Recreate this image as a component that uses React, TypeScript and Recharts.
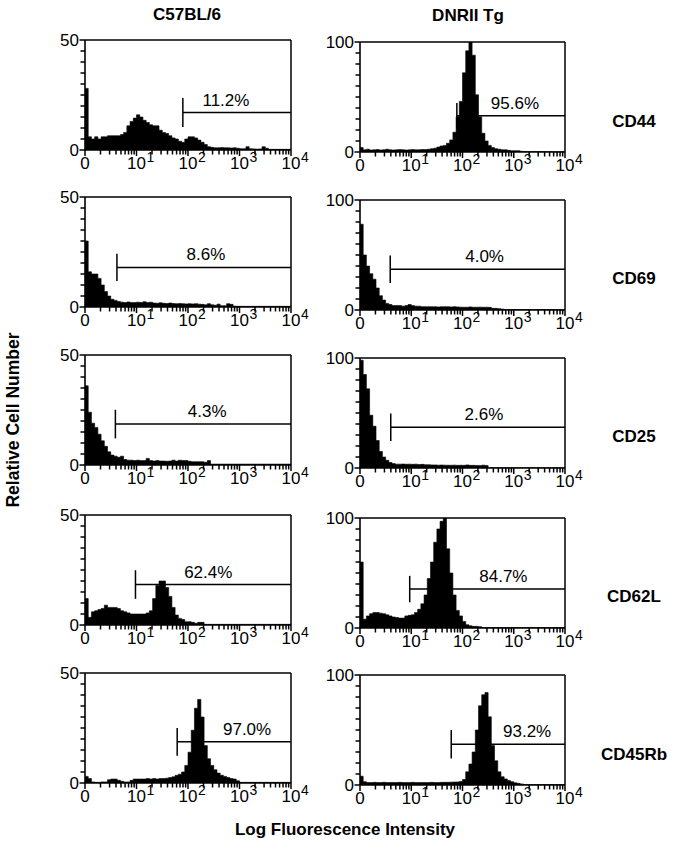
import React from 'react';
import { ComposedChart, Area, XAxis, YAxis, ReferenceLine } from 'recharts';

const FONT = '"Liberation Sans", Arial, Helvetica, sans-serif';

const strains = ['C57BL/6', 'DNRII Tg'];
const markers = ['CD44', 'CD69', 'CD25', 'CD62L', 'CD45Rb'];
const yMaxByStrain = [50, 100];
const decadeLabels = ['0', '10', '10', '10', '10'];
const decadeExponents = ['', '1', '2', '3', '4'];
const xTitle = 'Log Fluorescence Intensity';
const yTitle = 'Relative Cell Number';
const BINS_PER_DECADE = 16;
const DECADES = 4;

// histogram counts per channel (16 channels per decade, 64 channels)
const b6CD44 = [
  28, 6, 5, 6, 5, 6, 6, 6.5, 6.5, 6.5,
  6.5, 7, 8, 11, 13, 14.5, 16, 15, 13.5, 12.5,
  11.5, 11, 11, 9, 8, 7.5, 6.5, 5.5, 5, 4,
  3.5, 5, 6, 6, 5.5, 4.5, 3.5, 2.5, 1.5, 1.2,
  1, 1, 1.1, 1, 1, 0.9, 1, 0.8, 0.6, 0.6,
  1.5, 0.6, 0.5, 0.4, 0.5, 1.5, 0.8, 0.3, 0.3, 0.3,
  0.3, 0.3, 0.3, 0.3,
];
const tgCD44 = [
  4, 2, 2.5, 1.8, 2, 2.2, 1.8, 2, 2.5, 2,
  1.8, 2, 2.2, 2, 1.8, 2, 2.2, 2, 2, 2.3,
  2.2, 2.5, 3, 3.5, 4.5, 5.5, 6, 8, 11, 18,
  32, 46, 72, 92, 100, 88, 52, 32, 17, 10,
  6, 4, 3, 2.5, 2, 2, 1.5, 1.2, 1.2, 1.2,
  0.6, 0.5, 0.4, 0.5, 0.5, 0.4, 0.5, 0.4, 0.3, 0.4,
  0.3, 0.3, 0.3, 0.3,
];
const b6CD69 = [
  30, 16, 15, 15, 13, 10, 7, 5, 3.5, 3,
  2.5, 2.2, 2, 2.3, 2, 2, 2.2, 2, 2.4, 2,
  2.2, 1.8, 1.7, 1.9, 1.7, 1.6, 1.8, 1.6, 1.5, 1.6,
  1.5, 1.4, 1.5, 1.4, 1.5, 1.3, 1.2, 1, 1.5, 1,
  0.8, 1.3, 0.6, 0.6, 1.5, 1.2, 0.4, 0.3, 0.3, 0.3,
  0.3, 0.3, 0.3, 0.3, 0.3, 0.3, 0.3, 0.3, 0.3, 0.3,
  0.3, 0.3, 0.3, 0.3,
];
const tgCD69 = [
  78, 50, 40, 33, 28, 20, 13, 9, 6, 5,
  4, 4, 4, 3.5, 4, 5, 4, 3.5, 3.5, 3,
  3, 3, 3, 3, 2.8, 3, 3, 3, 2.8, 3,
  2.8, 2.6, 2.5, 2.5, 2.8, 2.5, 2.5, 2.6, 2.5, 2.5,
  2.4, 1.5, 1.5, 1.2, 0.8, 0.5, 0.5, 0.4, 0.4, 0.4,
  0.4, 0.4, 0.4, 0.4, 0.4, 0.4, 0.4, 0.4, 0.4, 0.4,
  0.4, 0.4, 0.4, 0.4,
];
const b6CD25 = [
  36, 24, 19, 17, 14, 11, 8.5, 6, 4.5, 4,
  3.5, 4, 2.5, 2.2, 2.2, 2, 2.2, 2, 2, 3,
  2, 1.8, 2, 1.8, 1.8, 1.7, 1.8, 2.2, 1.8, 2.2,
  2, 2, 1.7, 1.5, 1.5, 1.5, 1.5, 1.2, 2, 0.4,
  0.4, 0.4, 0.4, 0.4, 0.4, 0.4, 0.4, 0.4, 0.4, 0.4,
  0.4, 0.4, 0.4, 0.4, 0.4, 0.4, 0.4, 0.4, 0.4, 0.4,
  0.4, 0.4, 0.4, 0.4,
];
const tgCD25 = [
  98, 85, 72, 48, 38, 25, 15, 10, 7, 5,
  4, 3.5, 3.5, 3.6, 3.4, 3.5, 3.3, 3.5, 3.2, 3.3,
  3, 3, 2.8, 2.8, 2.6, 2.7, 2.6, 2.5, 2.5, 2.6,
  2.4, 2.5, 2.4, 2.8, 2.4, 2.4, 2.3, 2.2, 2.6, 2.3,
  0.3, 0.3, 0.3, 0.3, 0.3, 0.3, 0.3, 0.3, 0.3, 0.3,
  0.3, 0.3, 0.3, 0.3, 0.3, 0.3, 0.3, 0.3, 0.3, 0.3,
  0.3, 0.3, 0.3, 0.3,
];
const b6CD62L = [
  12, 3.5, 6, 6.5, 7, 7.5, 9, 8, 8, 8,
  7.5, 6.5, 6, 5.5, 5, 5, 5, 5, 5, 5.5,
  6.5, 12, 18, 20, 20, 17, 13, 8, 4.5, 3,
  2.5, 1.5, 1.5, 1.2, 0.8, 1.2, 1.2, 0.3, 0.3, 0.3,
  0.3, 0.3, 0.3, 0.3, 0.3, 0.3, 0.3, 0.3, 0.3, 0.3,
  0.3, 0.3, 0.3, 0.3, 0.3, 0.3, 0.3, 0.3, 0.3, 0.3,
  0.3, 0.3, 0.3, 0.3,
];
const tgCD62L = [
  60, 8, 11, 13, 14, 14, 13.5, 13, 12, 11,
  10, 9.5, 9, 9, 11, 11.5, 12, 14, 17, 22,
  30, 45, 60, 78, 90, 97, 100, 72, 50, 30,
  16, 11, 6, 3, 2, 1.5, 1.5, 1.2, 0.4, 0.4,
  0.4, 0.4, 0.4, 0.4, 0.4, 0.4, 0.4, 0.4, 0.4, 0.4,
  0.4, 0.4, 0.4, 0.4, 0.4, 0.4, 0.4, 0.4, 0.4, 0.4,
  0.4, 0.4, 0.4, 0.4,
];
const b6CD45Rb = [
  3, 2, 0.5, 0.3, 0.3, 0.5, 0.5, 1.5, 1.8, 1.8,
  1.2, 0.8, 0.5, 0.5, 1.2, 1.8, 1.8, 1.8, 1.8, 2,
  1.8, 2, 1.8, 2, 2, 2.2, 2.5, 2.8, 3.5, 4,
  5, 8, 14, 24, 34, 38, 30, 17, 11, 8,
  6, 4.5, 3.5, 3, 2.5, 2, 1.8, 1, 0.3, 0.3,
  0.3, 0.3, 0.3, 0.3, 0.3, 0.3, 0.3, 0.3, 0.3, 0.3,
  0.3, 0.3, 0.3, 0.3,
];
const tgCD45Rb = [
  8, 3, 2.3, 2.2, 2.4, 2.3, 2.2, 2.5, 2.3, 2.2,
  2.3, 2.2, 2.4, 2.2, 2.3, 2.2, 2.4, 2.3, 2.2, 2.3,
  2.2, 2.3, 2.4, 2.2, 2.3, 2.4, 2.5, 2.4, 2.6, 2.7,
  2.8, 3.2, 5, 12, 19, 30, 50, 72, 82, 84,
  62, 36, 22, 12, 7.5, 5.5, 4, 3, 2, 1.5,
  1, 0.4, 0.4, 0.4, 0.4, 0.4, 0.4, 0.4, 0.4, 0.4,
  0.4, 0.4, 0.4, 0.4,
];

// gates: start (log decades), level (cell number), half-height of the end mark, percent
const gateStartB6 = [1.9, 0.62, 0.59, 0.98, 1.79];
const gateStartTg = [1.89, 0.59, 0.6, 0.97, 1.78];
const gateLevelB6 = [17, 18, 18.6, 18.4, 18.7];
const gateLevelTg = [33, 37, 37, 35.4, 37];
const gateHalfB6 = [6.6, 6.2, 6.5, 6.5, 6.3];
const gateHalfTg = [11.5, 12.5, 12.5, 12, 13];
const gatePctB6 = ['11.2%', '8.6%', '4.3%', '62.4%', '97.0%'];
const gatePctTg = ['95.6%', '4.0%', '2.6%', '84.7%', '93.2%'];

const histB6 = [b6CD44, b6CD69, b6CD25, b6CD62L, b6CD45Rb];
const histTg = [tgCD44, tgCD69, tgCD25, tgCD62L, tgCD45Rb];

// layout (px)
const LABEL_DX_B6 = [-11, 2, 4, -5, 13];
const LABEL_DX_TG = [4, 7, 6, 16, 19];
const PLOT_LEFT = [85, 360];
const PLOT_W = [206, 205];
const ROW_TOP_B6 = [40, 197, 355, 515, 673];
const ROW_TOP_TG = [42, 200, 358, 518, 675];
const PH = 110;
const YW = 50;
const MT = 12;
const MR = 24;
const XH = 36;
const TICK = 4;
const TICK_GAP = 2;

const xTicks: number[] = [];
for (let d = 0; d < DECADES; d++) {
  for (let k = 1; k <= 9; k++) xTicks.push(d + Math.log10(k));
}
xTicks.push(DECADES);

const XTick = (props: any) => {
  const { x, y, payload } = props;
  const v = payload.value;
  const idx = Math.round(v);
  const major = Math.abs(v - idx) < 1e-6;
  const axisY = y - TICK - TICK_GAP;
  const exp = major ? decadeExponents[idx] : '';
  return (
    <g>
      <line x1={x} x2={x} y1={axisY} y2={axisY + (major ? 6 : 4.5)} stroke="#000" strokeWidth={1.5} />
      {major ? (
        <text x={x} y={y} dy={13} textAnchor="middle" fontSize={17} fill="#000" fontFamily={FONT}>
          {decadeLabels[idx]}
        </text>
      ) : null}
      {exp ? (
        <text x={x + 10} y={y} dy={6} textAnchor="start" fontSize={14} fill="#000" fontFamily={FONT}>
          {exp}
        </text>
      ) : null}
    </g>
  );
};

const makeYTick = (max: number) => (props: any) => {
  const { x, y, payload } = props;
  const v = payload.value;
  const axisX = x + TICK + TICK_GAP;
  const major = v === 0 || v === max;
  return (
    <g>
      <line x1={axisX} x2={axisX - (major ? 5.5 : 4.5)} y1={y} y2={y} stroke="#000" strokeWidth={1.5} />
      {major ? (
        <text x={x} y={y} dy={6} textAnchor="end" fontSize={17} fill="#000" fontFamily={FONT}>
          {v}
        </text>
      ) : null}
    </g>
  );
};

type PanelProps = {
  values: number[];
  max: number;
  start: number;
  level: number;
  half: number;
  label: string;
  labelDx: number;
  left: number;
  top: number;
  width: number;
};

function Panel({ values, max, start, level, half, label, labelDx, left, top, width }: PanelProps) {
  const data = values.map((v, i) => ({ x: i / BINS_PER_DECADE, count: v }));
  data.push({ x: DECADES, count: values[values.length - 1] });
  const yTicks: number[] = [];
  for (let t = 0; t <= 10; t++) yTicks.push((max / 10) * t);
  return (
    <div style={{ position: 'absolute', left: left - YW, top: top - MT }}>
      <ComposedChart
        width={YW + width + MR}
        height={MT + PH + XH}
        data={data}
        margin={{ top: MT, right: MR, bottom: 0, left: 0 }}
        style={{ overflow: 'visible' }}
      >
        <XAxis
          dataKey="x"
          type="number"
          domain={[0, DECADES]}
          ticks={xTicks}
          interval={0}
          tick={<XTick />}
          tickSize={TICK}
          tickMargin={TICK_GAP}
          axisLine={{ stroke: '#000', strokeWidth: 1.6 }}
          tickLine={false}
          height={XH}
          allowDataOverflow
        />
        <YAxis
          type="number"
          domain={[0, max]}
          ticks={yTicks}
          interval={0}
          tick={makeYTick(max)}
          width={YW}
          tickSize={TICK}
          tickMargin={TICK_GAP}
          axisLine={{ stroke: '#000', strokeWidth: 1.6 }}
          tickLine={false}
          allowDataOverflow
        />
        <Area
          type="stepAfter"
          dataKey="count"
          stroke="#000"
          strokeWidth={0.6}
          fill="#000"
          fillOpacity={1}
          isAnimationActive={false}
          dot={false}
          activeDot={false}
        />
        <ReferenceLine y={max} stroke="#000" strokeWidth={1.5} ifOverflow="visible" />
        <ReferenceLine x={DECADES} stroke="#000" strokeWidth={1.5} ifOverflow="visible" />
        <ReferenceLine
          segment={[{ x: start, y: level }, { x: DECADES, y: level }]}
          stroke="#000"
          strokeWidth={1.5}
          ifOverflow="visible"
          label={{ value: label, position: 'top', offset: 7, dx: labelDx, fontSize: 17, fill: '#000', fontFamily: FONT }}
        />
        <ReferenceLine
          segment={[{ x: start, y: level - half }, { x: start, y: level + half }]}
          stroke="#000"
          strokeWidth={1.5}
          ifOverflow="visible"
        />
      </ComposedChart>
    </div>
  );
}

export default function App() {
  return (
    <div style={{ position: 'absolute', left: 0, top: 0, width: 685, height: 853, background: '#fff', fontFamily: FONT }}>
      <svg width={685} height={853} style={{ position: 'absolute', left: 0, top: 0 }}>
        <text x={187} y={20} textAnchor="middle" fontSize={17} fontWeight="bold" fontFamily={FONT} fill="#000">
          {strains[0]}
        </text>
        <text x={468} y={21} textAnchor="middle" fontSize={17} fontWeight="bold" fontFamily={FONT} fill="#000">
          {strains[1]}
        </text>
        {markers.map((m, r) => (
          <text key={m} x={634} y={ROW_TOP_B6[r] + 87} textAnchor="middle" fontSize={17} fontWeight="bold" fontFamily={FONT} fill="#000">
            {m}
          </text>
        ))}
        <text x={345} y={835} textAnchor="middle" fontSize={17} fontWeight="bold" fontFamily={FONT} fill="#000">
          {xTitle}
        </text>
        <text transform="translate(19,420) rotate(-90)" textAnchor="middle" fontSize={17.5} fontWeight="bold" fontFamily={FONT} fill="#000">
          {yTitle}
        </text>
      </svg>
      {markers.map((m, r) => (
        <React.Fragment key={m}>
          <Panel
            values={histB6[r]}
            max={yMaxByStrain[0]}
            start={gateStartB6[r]}
            level={gateLevelB6[r]}
            half={gateHalfB6[r]}
            label={gatePctB6[r]}
            labelDx={LABEL_DX_B6[r]}
            left={PLOT_LEFT[0]}
            top={ROW_TOP_B6[r]}
            width={PLOT_W[0]}
          />
          <Panel
            values={histTg[r]}
            max={yMaxByStrain[1]}
            start={gateStartTg[r]}
            level={gateLevelTg[r]}
            half={gateHalfTg[r]}
            label={gatePctTg[r]}
            labelDx={LABEL_DX_TG[r]}
            left={PLOT_LEFT[1]}
            top={ROW_TOP_TG[r]}
            width={PLOT_W[1]}
          />
        </React.Fragment>
      ))}
    </div>
  );
}
